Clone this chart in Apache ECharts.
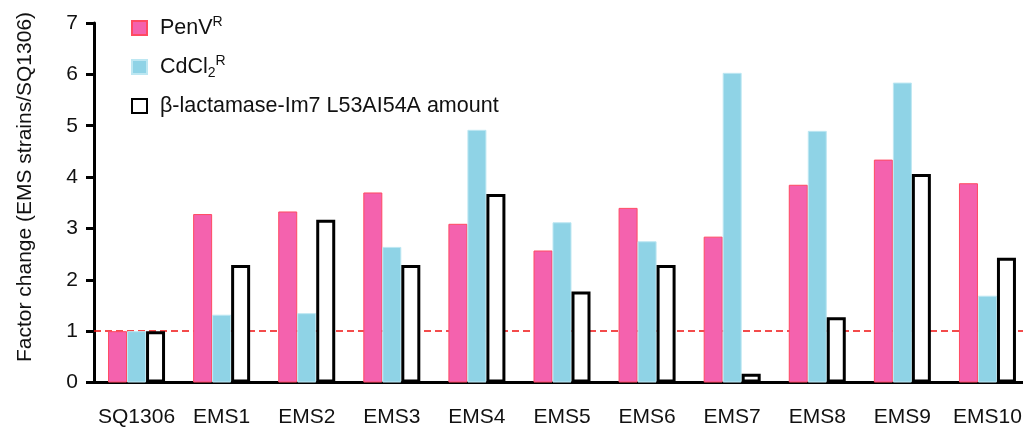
<!DOCTYPE html>
<html>
<head>
<meta charset="utf-8">
<script src="https://cdn.jsdelivr.net/npm/echarts@6/dist/echarts.min.js"></script>
<style>
  html, body { margin: 0; padding: 0; background: #fff; }
  #chart { width: 1023px; height: 427px; }
</style>
</head>
<body>
<div id="chart"></div>
<script>
// Strains on the x axis
const strains = ['SQ1306', 'EMS1', 'EMS2', 'EMS3', 'EMS4', 'EMS5', 'EMS6', 'EMS7', 'EMS8', 'EMS9', 'EMS10'];
// Factor change relative to SQ1306
const penV   = [1.00, 3.28, 3.33, 3.70, 3.09, 2.57, 3.40, 2.84, 3.85, 4.34, 3.88];
const cdCl2  = [1.00, 1.32, 1.35, 2.64, 4.92, 3.12, 2.75, 6.03, 4.90, 5.84, 1.69];
const amount = [1.00, 2.29, 3.17, 2.29, 3.67, 1.77, 2.29, 0.17, 1.27, 4.06, 2.43];
// Reference level (no change)
const baseline = 1;
const yTicks = [0, 1, 2, 3, 4, 5, 6, 7];
const yTitle = 'Factor change (EMS strains/SQ1306)';

const FONT = 'Liberation Sans, Arial, sans-serif';
const chart = echarts.init(document.getElementById('chart'), null, { renderer: 'canvas' });

chart.setOption({
  animation: false,
  backgroundColor: '#ffffff',
  textStyle: { fontFamily: FONT, color: '#111' },
  grid: { left: 94, width: 936, top: 23, bottom: 44.5, containLabel: false, outerBoundsMode: 'none' },
  legend: {
    orient: 'vertical',
    left: 126,
    top: 10,
    icon: 'rect',
    itemWidth: 15,
    itemHeight: 14,
    itemGap: 13,
    selectedMode: false,
    textStyle: {
      fontFamily: FONT, fontSize: 21.5, color: '#111', lineHeight: 26,
      padding: [0, 0, 0, 8],
      rich: {
        t: { fontFamily: FONT, fontSize: 21.5, color: '#111' },
        sup: { fontFamily: FONT, fontSize: 14, color: '#111', verticalAlign: 'top', lineHeight: 26, padding: [0, 0, 10, 0] },
        sub: { fontFamily: FONT, fontSize: 14, color: '#111', verticalAlign: 'bottom', lineHeight: 26, padding: [9, 0, 0, 0] }
      }
    },
    formatter: function (name) {
      if (name === 'PenV') return '{t|PenV}{sup|R}';
      if (name === 'CdCl2') return '{t|CdCl}{sub|2}{sup|R}';
      return '{t|' + name + '}';
    },
    data: ['PenV', 'CdCl2', 'β-lactamase-Im7 L53AI54A amount']
  },
  graphic: [{
    type: 'text',
    x: 25,
    y: 187,
    rotation: Math.PI / 2,
    style: {
      text: yTitle,
      fontFamily: FONT,
      fontSize: 21,
      fill: '#111',
      textAlign: 'center',
      textVerticalAlign: 'middle'
    }
  }],
  xAxis: {
    type: 'category',
    data: strains,
    axisLine: { lineStyle: { color: '#000', width: 3 } },
    axisTick: { show: false },
    axisLabel: { interval: 0, fontFamily: FONT, fontSize: 21, color: '#111', margin: 24 }
  },
  yAxis: {
    type: 'value',
    min: 0,
    max: 7,
    interval: 1,
    axisLine: { show: true, lineStyle: { color: '#000', width: 3 } },
    axisTick: { show: true, length: 8, lineStyle: { color: '#000', width: 3 } },
    splitLine: { show: false },
    axisLabel: {
      fontFamily: FONT, fontSize: 21, color: '#111', margin: 16,
      formatter: function (v) { return yTicks.indexOf(v) >= 0 ? String(v) : ''; }
    }
  },
  series: [
    {
      name: 'PenV',
      type: 'bar',
      data: penV,
      barWidth: 19,
      barGap: '0%',
      z: 2,
      itemStyle: { color: '#F462AE', borderColor: '#FF4A62', borderWidth: 1 },
      markLine: {
        silent: true,
        z: 1,
        symbol: 'none',
        label: { show: false },
        lineStyle: { color: '#F01010', type: [7, 4], width: 1.6 },
        data: [{ yAxis: baseline }]
      }
    },
    {
      name: 'CdCl2',
      type: 'bar',
      data: cdCl2,
      barWidth: 19,
      barGap: '0%',
      z: 2,
      itemStyle: { color: '#8FD3E6', borderColor: '#BDE7F2', borderWidth: 1 }
    },
    {
      name: 'β-lactamase-Im7 L53AI54A amount',
      type: 'bar',
      data: amount,
      barWidth: 19,
      barGap: '0%',
      z: 3,
      itemStyle: { color: '#ffffff', borderColor: '#000000', borderWidth: 3 }
    }
  ]
});
</script>
</body>
</html>
